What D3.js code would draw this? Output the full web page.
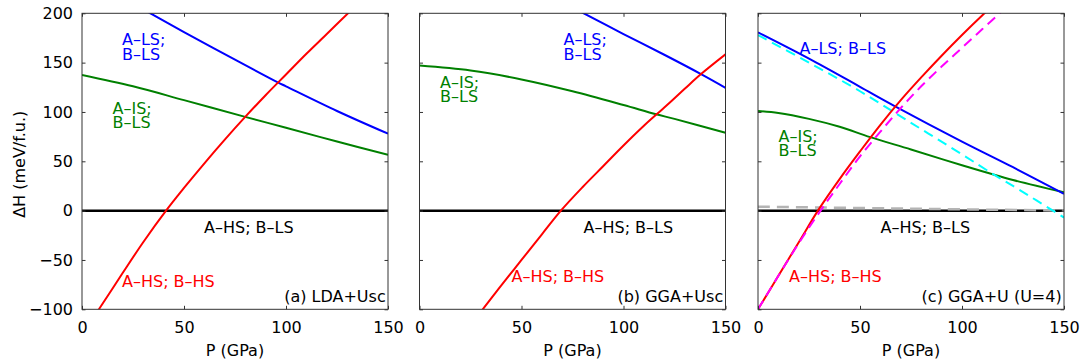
<!DOCTYPE html>
<html>
<head>
<meta charset="utf-8">
<script src="https://cdn.jsdelivr.net/npm/d3@7"></script>
<style>
	html, body { margin: 0; padding: 0; background: #fff; }
	svg { display: block; }
	text { font-family: "DejaVu Sans", sans-serif; font-size: 16px; }
</style>
</head>
<body>
<svg id="chart" width="1081" height="364"></svg>
<script>
// Values: [P (GPa), ΔH (meV/f.u.)]
const pressureTicks = [0, 50, 100, 150];
const enthalpyTicks = [-100, -50, 0, 50, 100, 150, 200];
const panelTitles = ["(a) LDA+Usc", "(b) GGA+Usc", "(c) GGA+U (U=4)"];

// (a) LDA+Usc
const lda_LS_LS = [[20, 216], [33.5, 200], [50, 181], [75, 153], [96, 130], [100, 126], [125, 101], [150, 78]];
const lda_IS_LS = [[0, 137.5], [25, 126], [50, 112], [80, 95], [100, 84], [125, 70], [150, 56.5]];
const lda_HS_HS = [[5, -110], [8.3, -100], [20, -63], [30, -32], [41.2, 0], [50, 23], [60, 48], [70, 72], [80, 95], [90, 117], [100, 138], [110, 159], [120, 179], [130.4, 200], [140, 219]];
const lda_HS_LS = [[0, 0], [150, 0]];

// (b) GGA+Usc
const gga_LS_LS = [[60, 222], [80.5, 200], [100, 179], [120, 158], [138, 138.4], [150, 124.5]];
const gga_IS_LS = [[0, 147], [25, 142], [50, 133], [75, 121], [100, 107], [116, 97.6], [125, 93], [150, 79]];
const gga_HS_HS = [[25, -115], [31, -100], [40, -76], [50, -50], [60, -24], [69.3, 0], [80, 24], [90, 45], [100, 66], [110, 86], [120, 104.5], [130, 123.5], [138, 138.4], [150, 158.4]];
const gga_HS_LS = [[0, 0], [150, 0]];

// (c) GGA+U (U=4)
const ggau_LS_LS = [[0, 180.6], [25, 154], [50, 125.5], [67, 106], [100, 70], [125, 44], [150, 17]];
const ggau_IS_LS = [[0, 101], [10, 99], [25, 93], [40, 85], [55, 74.5], [75, 62], [100, 46], [125, 31], [150, 18.5]];
const ggau_HS_HS = [[0, -100], [10, -66], [20, -32], [30, 2], [40, 32], [50, 60], [60, 87], [70, 112], [80, 135], [90, 157], [100, 178], [110, 198], [120, 217]];
const ggau_HS_LS = [[0, 0], [150, 0]];
const ggau_LS_LS_alt = [[0, 178], [25, 150], [50, 121], [75, 89], [100, 57], [116, 36], [125, 25], [150, -7]];
const ggau_HS_HS_alt = [[0, -100], [10, -66], [20, -33], [30, -2], [40, 27], [50, 55], [60, 80], [70, 104], [80, 126], [90, 146], [100, 165], [110, 184], [120, 203]];
const ggau_HS_LS_alt = [[0, 4], [75, 2], [150, 0]];

const panels = [
	{
		title: panelTitles[0], left: 82,
		series: [
			{ data: lda_HS_LS, color: "#000", width: 2.5 },
			{ data: lda_IS_LS, color: "#008000", width: 2 },
			{ data: lda_LS_LS, color: "#0000ff", width: 2 },
			{ data: lda_HS_HS, color: "#ff0000", width: 2 },
		],
		labels: [
			{ lines: ["A–LS;", "B–LS"], x: 40, y: 45, color: "#0000ff" },
			{ lines: ["A–IS;", "B–LS"], x: 30.5, y: 113.5, color: "#008000" },
			{ lines: ["A–HS; B–LS"], x: 122, y: 232.5, color: "#000" },
			{ lines: ["A–HS; B–HS"], x: 40, y: 286.5, color: "#ff0000" },
		],
	},
	{
		title: panelTitles[1], left: 419.5,
		series: [
			{ data: gga_HS_LS, color: "#000", width: 2.5 },
			{ data: gga_IS_LS, color: "#008000", width: 2 },
			{ data: gga_LS_LS, color: "#0000ff", width: 2 },
			{ data: gga_HS_HS, color: "#ff0000", width: 2 },
		],
		labels: [
			{ lines: ["A–LS;", "B–LS"], x: 144, y: 45, color: "#0000ff" },
			{ lines: ["A–IS;", "B–LS"], x: 20.5, y: 87.5, color: "#008000" },
			{ lines: ["A–HS; B–LS"], x: 164, y: 232.5, color: "#000" },
			{ lines: ["A–HS; B–HS"], x: 92, y: 282, color: "#ff0000" },
		],
	},
	{
		title: panelTitles[2], left: 758,
		series: [
			{ data: ggau_HS_LS, color: "#000", width: 2.5 },
			{ data: ggau_HS_LS_alt, color: "#b4b4b4", width: 2.5, dash: "12,7" },
			{ data: ggau_IS_LS, color: "#008000", width: 2 },
			{ data: ggau_LS_LS_alt, color: "#00ffff", width: 2, dash: "10,6" },
			{ data: ggau_LS_LS, color: "#0000ff", width: 2 },
			{ data: ggau_HS_HS, color: "#ff0000", width: 2 },
			{ data: ggau_HS_HS_alt, color: "#ff00ff", width: 2, dash: "10,6" },
		],
		labels: [
			{ lines: ["A–LS; B–LS"], x: 41.5, y: 53.5, color: "#0000ff" },
			{ lines: ["A–IS;", "B–LS"], x: 20.5, y: 141.5, color: "#008000" },
			{ lines: ["A–HS; B–LS"], x: 122.5, y: 232.5, color: "#000" },
			{ lines: ["A–HS; B–HS"], x: 31, y: 282, color: "#ff0000" },
		],
	},
];

const panelWidth = 306,
	plotTop = 13.3,
	plotBottom = 309.3,
	tickLen = 3.5,
	lineGap = 14.5;

const svg = d3.select("#chart");
svg.append("rect").attr("width", 1081).attr("height", 364).attr("fill", "#fff");

const scaleY = d3.scaleLinear().domain([-100, 200]).range([plotBottom, plotTop]);

panels.forEach((p, pi) => {
	const scaleX = d3.scaleLinear().domain([0, 150]).range([p.left, p.left + panelWidth]);
	const g = svg.append("g").classed("panel", true);

	const clipId = "clip" + pi;
	g.append("clipPath").attr("id", clipId)
		.append("rect")
		.attr("x", p.left).attr("y", plotTop)
		.attr("width", panelWidth).attr("height", plotBottom - plotTop);

	const line = d3.line()
		.x((d) => scaleX(d[0]))
		.y((d) => scaleY(d[1]))
		.curve(d3.curveCatmullRom.alpha(0.5));

	g.append("g").attr("clip-path", `url(#${clipId})`)
		.selectAll("path")
		.data(p.series)
		.join("path")
		.attr("d", (d) => line(d.data))
		.attr("fill", "none")
		.attr("stroke", (d) => d.color)
		.attr("stroke-width", (d) => d.width)
		.attr("stroke-dasharray", (d) => d.dash || null);

	// inward ticks on all four sides, matlab style
	const axes = [
		d3.axisBottom(scaleX).tickValues(pressureTicks).tickSizeInner(-tickLen).tickSizeOuter(0).tickPadding(12),
		d3.axisTop(scaleX).tickValues(pressureTicks).tickSizeInner(-tickLen).tickSizeOuter(0).tickFormat(""),
		d3.axisLeft(scaleY).tickValues(enthalpyTicks).tickSizeInner(-tickLen).tickSizeOuter(0).tickPadding(9)
			.tickFormat(pi === 0 ? (d) => (d < 0 ? "\u2212" + Math.abs(d) : d) : ""),
		d3.axisRight(scaleY).tickValues(enthalpyTicks).tickSizeInner(-tickLen).tickSizeOuter(0).tickFormat(""),
	];
	const offsets = [
		`translate(0,${plotBottom})`,
		`translate(0,${plotTop})`,
		`translate(${p.left},0)`,
		`translate(${p.left + panelWidth},0)`,
	];
	axes.forEach((ax, i) => {
		const a = g.append("g").attr("transform", offsets[i]).call(ax);
		a.select(".domain").remove();
		a.selectAll("line").attr("stroke", "#333").attr("stroke-width", 1);
		a.selectAll("text").attr("font-size", "15px").attr("font-family", null).attr("fill", "#000");
	});

	g.append("rect")
		.attr("x", p.left).attr("y", plotTop)
		.attr("width", panelWidth).attr("height", plotBottom - plotTop)
		.attr("fill", "none").attr("stroke", "#333").attr("stroke-width", 1);

	// curve labels
	p.labels.forEach((l) => {
		const t = g.append("text")
			.attr("x", p.left + l.x)
			.attr("y", l.y)
			.attr("fill", l.color);
		l.lines.forEach((s, i) => {
			t.append("tspan").attr("x", p.left + l.x).attr("dy", i === 0 ? 0 : lineGap).text(s);
		});
	});

	g.append("text")
		.attr("x", p.left + panelWidth - 2.3)
		.attr("y", 301.5)
		.attr("text-anchor", "end")
		.attr("fill", "#000")
		.text(p.title);

	g.append("text")
		.attr("x", p.left + panelWidth / 2)
		.attr("y", 356)
		.attr("text-anchor", "middle")
		.attr("font-size", "15px")
		.attr("fill", "#000")
		.text("P (GPa)");
});

svg.append("text")
	.attr("transform", `translate(25,${(plotTop + plotBottom) / 2 + 3}) rotate(-90)`)
	.attr("text-anchor", "middle")
	.attr("font-size", "15px")
	.attr("fill", "#000")
	.text("\u0394H (meV/f.u.)");
</script>
</body>
</html>
